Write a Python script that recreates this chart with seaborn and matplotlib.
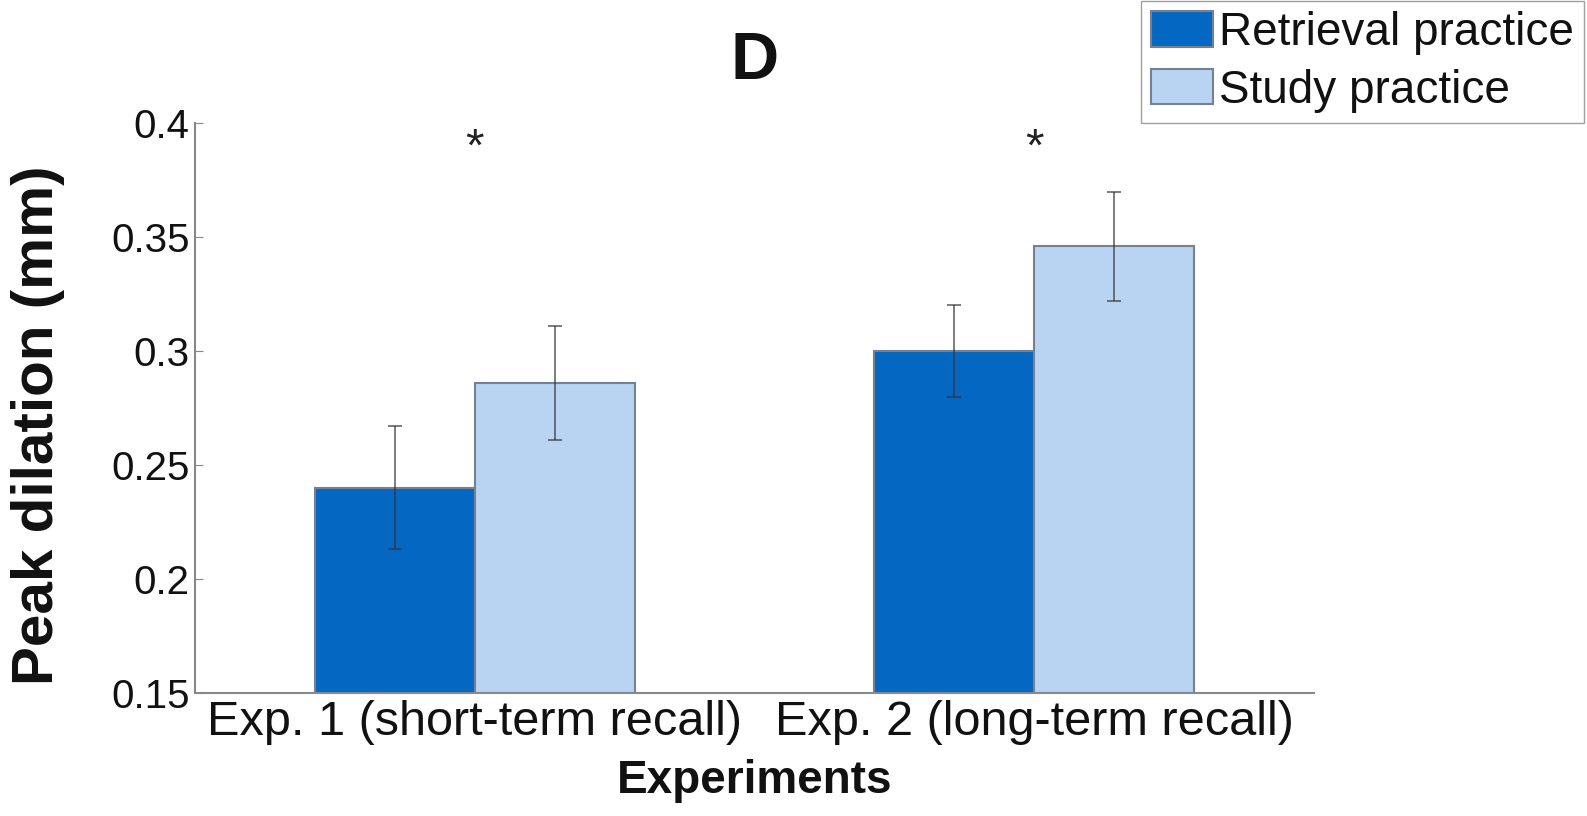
import pandas as pd
import seaborn as sns
import matplotlib.pyplot as plt

# Data
experiments = ["Exp. 1 (short-term recall)", "Exp. 2 (long-term recall)"]
conditions = ["Retrieval practice", "Study practice"]
retrieval_mean = [0.240, 0.300]
study_mean = [0.286, 0.346]
retrieval_se = [0.027, 0.020]
study_se = [0.025, 0.024]

data = pd.DataFrame({
    "experiment": experiments * 2,
    "condition": [conditions[0]] * 2 + [conditions[1]] * 2,
    "peak": retrieval_mean + study_mean,
    "se": retrieval_se + study_se,
})

sns.set_style("ticks")
plt.rcParams["font.family"] = ["Liberation Sans", "DejaVu Sans"]
plt.rcParams["text.color"] = "#111111"
plt.rcParams["axes.labelcolor"] = "#111111"
plt.rcParams["xtick.color"] = "#111111"
plt.rcParams["ytick.color"] = "#111111"

fig = plt.figure(figsize=(15.87, 8.16), dpi=100)
ax = fig.add_axes([0.123, 0.151, 0.705, 0.698])

colors = ["#0468c2", "#b8d4f2"]
sns.barplot(data=data, x="experiment", y="peak", hue="condition",
            palette=colors, saturation=1, width=0.572, edgecolor="#77808f",
            linewidth=1.5, errorbar=None, ax=ax, legend=True)

# Error bars at the bar centres
for cont, cond in zip(ax.containers, conditions):
    sub = data[data["condition"] == cond]
    xs = [p.get_x() + p.get_width() / 2 for p in cont.patches]
    ax.errorbar(xs, sub["peak"], yerr=sub["se"], fmt="none", ecolor="#333333",
                elinewidth=1.2, capsize=5, capthick=1.2, alpha=0.75)

# Significance stars
for i in range(len(experiments)):
    ax.text(i, 0.389, "*", ha="center", va="center", fontsize=34,
            color="#222222")

ax.set_xlim(-0.5, 1.5)
ax.set_ylim(0.15, 0.4)
ax.set_yticks([0.15, 0.2, 0.25, 0.3, 0.35, 0.4])
ax.set_yticklabels(["0.15", "0.2", "0.25", "0.3", "0.35", "0.4"])
ax.tick_params(axis="y", direction="in", length=6, color="#888888",
               labelsize=29, pad=4)
ax.tick_params(axis="x", length=0, labelsize=35, pad=5)
for s in ["top", "right"]:
    ax.spines[s].set_visible(False)
for s in ["left", "bottom"]:
    ax.spines[s].set_color("#888888")
    ax.spines[s].set_linewidth(1.5)

ax.set_xlabel("Experiments", fontsize=33, fontweight="bold", labelpad=10)
ax.set_ylabel("Peak dilation (mm)", fontsize=42, fontweight="bold")
ax.yaxis.set_label_coords(-0.116, 0.47)
ax.set_title("D", fontsize=48, fontweight="bold", pad=32)

handles, labels = ax.get_legend_handles_labels()
ax.get_legend().remove()
fig.legend(handles, labels, loc="upper right", bbox_to_anchor=(0.998, 0.999),
           fontsize=33, frameon=True, fancybox=False, edgecolor="#888888",
           handlelength=1.35, handleheight=0.8, handletextpad=0.12,
           borderpad=0.22, labelspacing=0.3, borderaxespad=0.0)

fig.savefig("out.png", dpi=100)
